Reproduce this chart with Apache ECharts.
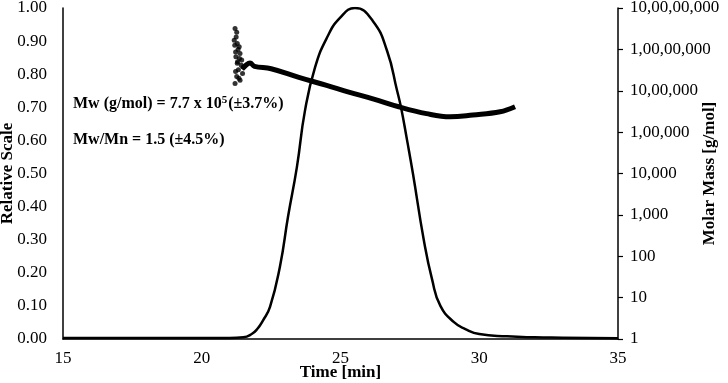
<!DOCTYPE html>
<html lang="en">
<head>
<meta charset="UTF-8">
<title>SEC chromatogram</title>
<style>
    * { margin: 0; padding: 0; }
    #chart { width: 728px; height: 383px; background: #fff; }
</style>
<script src="https://cdn.jsdelivr.net/npm/echarts@6/dist/echarts.min.js"></script>
</head>
<body>
<div id="chart"></div>
<script>
// relative detector signal (time in min, relative scale)
var peakTime = [15, 18, 21, 21.5, 21.8, 22.0, 22.2, 22.46, 22.82, 23.11, 23.43, 23.72, 24.08, 24.51, 24.98, 25.52,
    26.17, 26.68, 27.04, 27.18, 27.4, 27.61, 28.0, 28.3, 28.6, 29.1, 29.5, 30.0, 31, 32, 33, 35];
var peakValue = [0.003, 0.003, 0.003, 0.005, 0.015, 0.03, 0.055, 0.097, 0.22, 0.37, 0.52, 0.69, 0.82, 0.91, 0.97, 1.0,
    0.96, 0.87, 0.75, 0.70, 0.6, 0.5, 0.3, 0.18, 0.1, 0.05, 0.03, 0.015, 0.008, 0.005, 0.004, 0.002];

// molar mass trace (g/mol)
var massTime = [21.45, 21.6, 21.74, 21.9, 22.5, 23.5, 24.5, 25.3, 26.2, 27.1, 28.1, 28.95, 29.77, 30.75, 31.29];
var massValue = [3.3e6, 4.2e6, 4.7e6, 3.9e6, 3.4e6, 2.1e6, 1.35e6, 9.3e5, 6.3e5, 4.1e5, 2.8e5, 2.35e5, 2.6e5, 3.1e5, 4.1e5];

// noisy molar mass points at the start of elution
var noiseTime = [21.20, 21.26, 21.17, 21.28, 21.35, 21.22, 21.38, 21.23, 21.44, 21.28, 21.50, 21.32, 21.47, 21.26, 21.38, 21.20,
    21.24, 21.31, 21.19, 21.36, 21.29, 21.42, 21.22, 21.34];
var noiseValue = [3.2e7, 2.6e7, 1.66e7, 1.38e7, 1.15e7, 8.7e6, 7.9e6, 6.6e6, 5.5e6, 4.6e6, 3.8e6, 3.2e6, 2.6e6, 2.2e6, 1.8e6, 1.5e6,
    2.0e7, 1.0e7, 1.25e7, 6.0e6, 5.0e6, 4.2e6, 2.9e6, 2.0e6];

var massLabels = ['1', '10', '100', '1,000', '10,000', '1,00,000', '10,00,000', '1,00,00,000', '10,00,00,000'];

var font = 'Liberation Serif';
var chart = echarts.init(document.getElementById('chart'));

function pairs(xs, ys) {
    var out = [];
    for (var i = 0; i < xs.length; i++) out.push([xs[i], ys[i]]);
    return out;
}

var nameStyle = { fontFamily: font, fontWeight: 'bold', fontSize: 17, color: '#000' };

var option = {
    animation: false,
    grid: { left: 63, right: 110, top: 8, bottom: 44, outerBoundsMode: 'none', containLabel: false },
    xAxis: {
        type: 'value', min: 15, max: 35, interval: 5,
        name: 'Time [min]', nameLocation: 'middle', nameGap: 25, nameMoveOverlap: false,
        nameTextStyle: nameStyle,
        axisLine: { lineStyle: { color: '#000', width: 1.5 } },
        axisTick: { show: false },
        axisLabel: { fontFamily: font, fontSize: 17, color: '#000', margin: 11 },
        splitLine: { show: false }
    },
    yAxis: [{
        type: 'value', min: 0, max: 1, interval: 0.1,
        name: 'Relative Scale', nameLocation: 'middle', nameRotate: 90, nameGap: 47, nameMoveOverlap: false,
        nameTextStyle: nameStyle,
        axisLine: { show: true, lineStyle: { color: '#000', width: 1.5 } },
        axisTick: { show: false },
        axisLabel: { fontFamily: font, fontSize: 17, color: '#000', margin: 16,
            formatter: function (v) { return v.toFixed(2); } },
        splitLine: { show: false }
    }, {
        type: 'log', logBase: 10, min: 1, max: 1e8, position: 'right',
        name: 'Molar Mass [g/mol]', nameLocation: 'middle', nameRotate: 90, nameGap: 83, nameMoveOverlap: false,
        nameTextStyle: nameStyle,
        axisLine: { show: true, lineStyle: { color: '#000', width: 1.5 } },
        axisTick: { show: true, length: 5, lineStyle: { color: '#000', width: 1.2 } },
        axisLabel: { fontFamily: font, fontSize: 17, color: '#000', margin: 12,
            formatter: function (v) { return massLabels[Math.round(Math.log10(v))]; } },
        splitLine: { show: false }
    }],
    series: [{
        type: 'line', data: pairs(peakTime, peakValue), yAxisIndex: 0,
        smooth: 0.5, showSymbol: false,
        lineStyle: { color: '#000', width: 2.5 }
    }, {
        type: 'line', data: pairs(massTime, massValue), yAxisIndex: 1,
        smooth: 0.4, showSymbol: false,
        lineStyle: { color: '#000', width: 5 }
    }, {
        type: 'scatter', data: pairs(noiseTime, noiseValue), yAxisIndex: 1,
        symbolSize: 5, itemStyle: { color: '#000' }
    }],
    graphic: [{
        type: 'text', left: 73, top: 95,
        style: {
            text: '{b|Mw (g/mol) = 7.7 x 10}{s|5}{b|(±3.7%)}',
            rich: {
                b: { fontFamily: font, fontWeight: 'bold', fontSize: 16, fill: '#000', verticalAlign: 'bottom' },
                s: { fontFamily: font, fontWeight: 'bold', fontSize: 11, fill: '#000', padding: [0, 1, 6, 0] }
            }
        }
    }, {
        type: 'text', left: 73, top: 132,
        style: { text: 'Mw/Mn = 1.5 (±4.5%)', font: 'bold 16px "Liberation Serif"', fill: '#000' }
    }]
};
chart.setOption(option);
</script>
</body>
</html>
